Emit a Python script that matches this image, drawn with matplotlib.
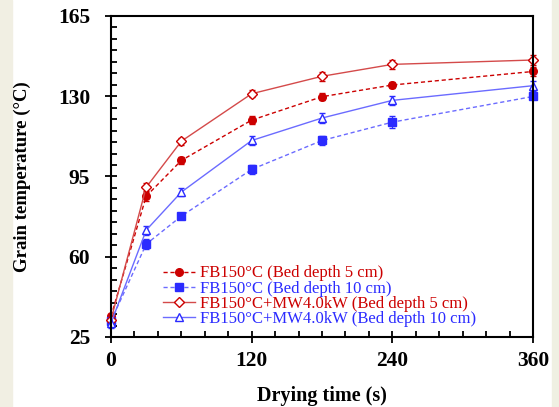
import matplotlib
matplotlib.use("Agg")
import matplotlib.pyplot as plt
from matplotlib.patches import Rectangle
from matplotlib.lines import Line2D
from matplotlib.ticker import MultipleLocator

# drying time (s)
time_s = [0, 30, 60, 120, 180, 240, 360]

# grain temperature (degC)
fb_5cm = [34.0, 86.4, 102.0, 119.6, 129.8, 134.9, 140.8]
fb_5cm_err = [1.0, 2.0, 1.5, 1.8, 1.6, 1.5, 2.0]
fb_10cm = [32.0, 65.5, 77.7, 98.1, 110.7, 118.7, 129.9]
fb_10cm_err = [1.0, 2.2, 1.2, 1.8, 1.8, 2.5, 1.2]
mw_5cm = [32.6, 90.3, 110.4, 131.1, 138.7, 143.9, 145.8]
mw_5cm_err = [1.2, 1.8, 1.6, 1.5, 2.0, 1.8, 2.0]
mw_10cm = [31.1, 71.6, 88.2, 110.7, 120.5, 128.2, 134.6]
mw_10cm_err = [2.0, 2.0, 1.8, 2.0, 2.2, 2.0, 2.2]

labels = ["FB150°C (Bed depth 5 cm)",
          "FB150°C (Bed depth 10 cm)",
          "FB150°C+MW4.0kW (Bed depth 5 cm)",
          "FB150°C+MW4.0kW (Bed depth 10 cm)"]

red = "#cc0000"
blue = "#2b2bff"
red_line = "#d44a4a"
blue_line = "#6b6bff"

plt.rcParams["font.family"] = "Liberation Serif"

fig = plt.figure(figsize=(5.59, 4.07), dpi=100)
fig.patch.set_facecolor("white")
# faded background strips at the edges
fig.patches.append(Rectangle((0, 0), 12 / 559, 1, transform=fig.transFigure,
                             color="#f1efe3", zorder=-1))
fig.patches.append(Rectangle((552 / 559, 0), 7 / 559, 1, transform=fig.transFigure,
                             color="#eff0e2", zorder=-1))

ax = fig.add_axes([0.1986, 0.172, 0.7549, 0.7887])

series = [
    (fb_5cm, fb_5cm_err, red, red, (0, (3, 2)), "o", red, 5.5),
    (fb_10cm, fb_10cm_err, blue_line, blue, (0, (3, 2)), "s", blue, 5.5),
    (mw_5cm, mw_5cm_err, red_line, red, "-", "D", "white", 5.5),
    (mw_10cm, mw_10cm_err, blue_line, blue, "-", "^", "white", 5.5),
]
handles = []
for (y, err, lc, mc, ls, mk, mfc, ms), lab in zip(series, labels):
    ax.errorbar(time_s, y, yerr=err, color=lc, ls=ls, lw=1.0, marker=mk, ms=ms,
                mfc=mfc, mec=mc, mew=1.0, ecolor=mc, capsize=2.5, elinewidth=0.9,
                capthick=0.9, clip_on=False)
    handles.append(Line2D([], [], color=lc, ls=ls, lw=1.0, marker=mk, ms=ms,
                          mfc=mfc, mec=mc, mew=1.0, label=lab))

ax.set_xlim(0, 360)
ax.set_ylim(25, 165)
ax.set_xticks([0, 120, 240, 360])
ax.set_yticks([25, 60, 95, 130, 165])
ax.xaxis.set_minor_locator(MultipleLocator(20))
ax.yaxis.set_minor_locator(MultipleLocator(5))
ax.tick_params(which="major", direction="inout", length=8, width=1.3,
               labelsize=15.5, top=False, right=False)
ax.tick_params(axis="x", which="major", pad=6)
ax.tick_params(axis="y", which="major", pad=11)
ax.tick_params(which="minor", direction="in", length=4, width=1.3,
               top=False, right=False)
for lab in ax.get_xticklabels() + ax.get_yticklabels():
    lab.set_fontweight("bold")
for sp in ax.spines.values():
    sp.set_linewidth(1.5)

ax.set_xlabel("Drying time (s)", fontsize=14.5, fontweight="bold", labelpad=11)
ax.set_ylabel("Grain temperature (°C)", fontsize=13.5, fontweight="bold")
ax.yaxis.set_label_coords(-0.19, 0.5)

leg = ax.legend(handles=handles, loc="lower left", bbox_to_anchor=(0.1, 0.0),
                frameon=False, fontsize=12, handlelength=1.9, handletextpad=0.3,
                labelspacing=-0.05, borderaxespad=0.2)
for txt, c in zip(leg.get_texts(), [red, blue, red, blue]):
    txt.set_color(c)

fig.savefig("out.png", dpi=100)
